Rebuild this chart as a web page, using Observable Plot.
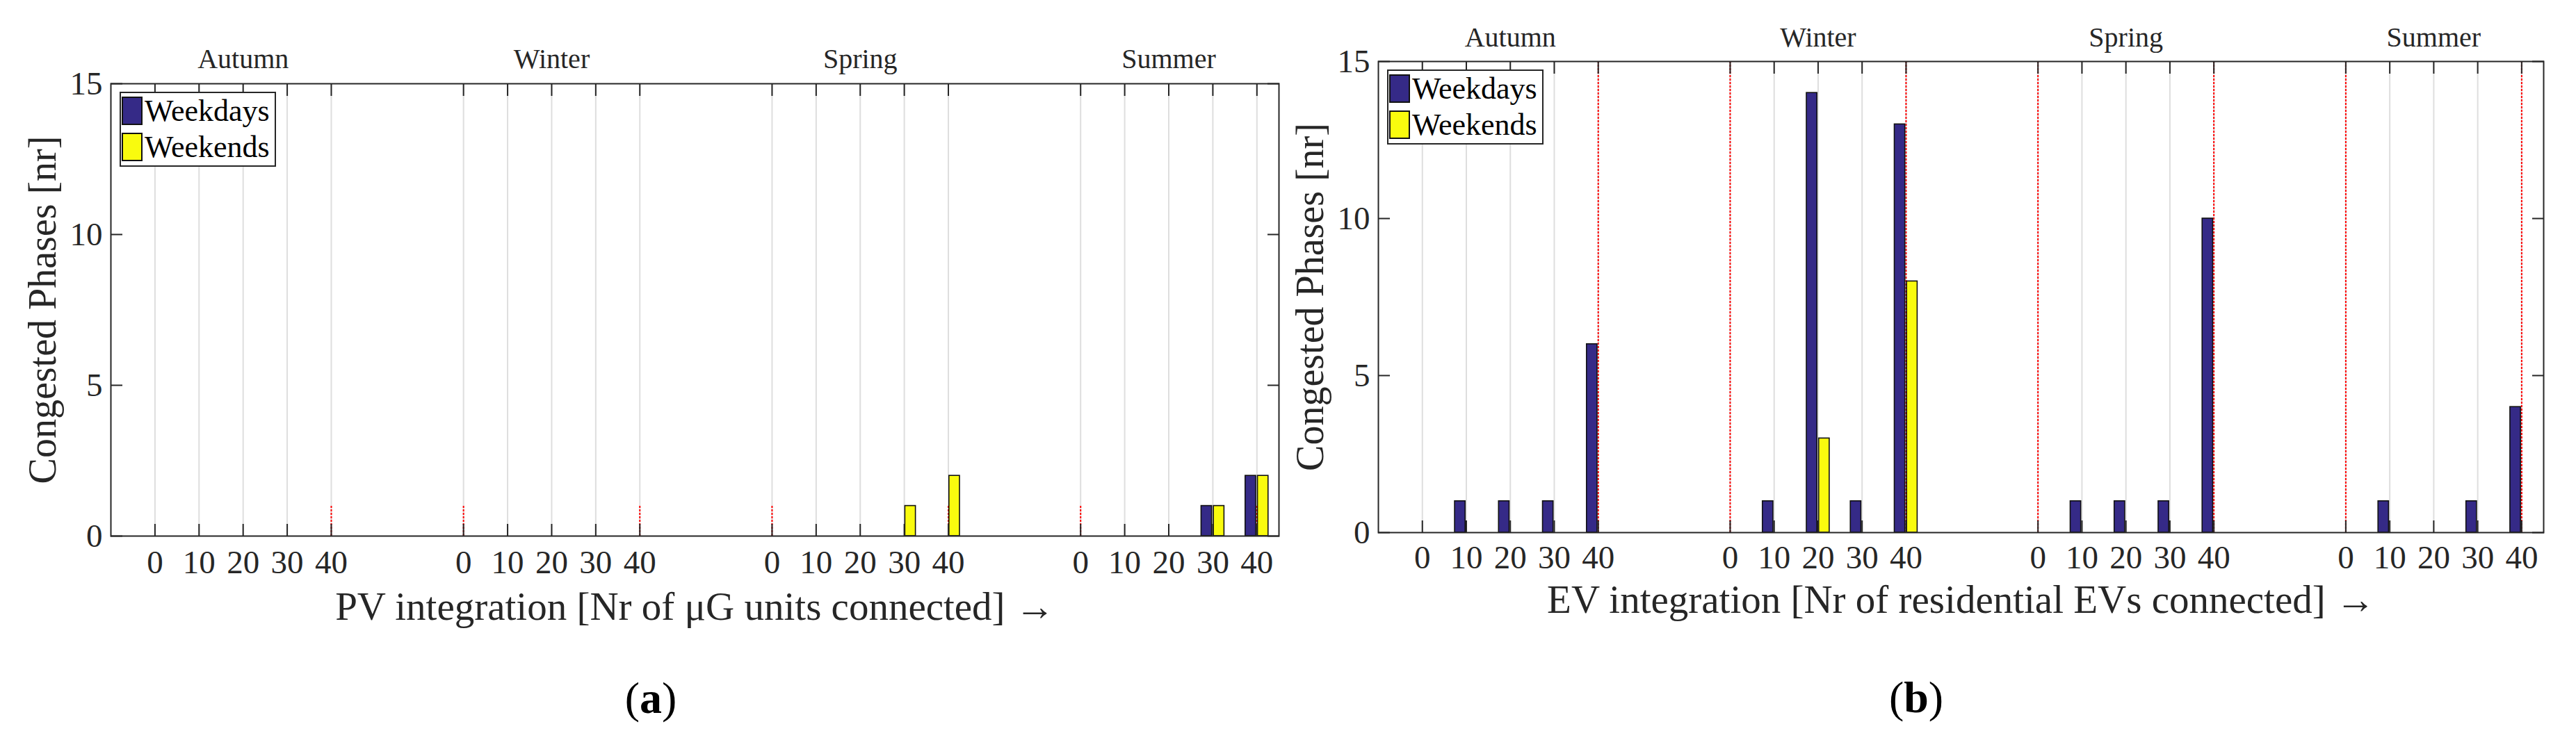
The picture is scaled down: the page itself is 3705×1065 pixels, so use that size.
<!DOCTYPE html>
<html>
<head>
<meta charset="utf-8">
<script src="https://cdn.jsdelivr.net/npm/d3@7"></script>
<script src="https://cdn.jsdelivr.net/npm/@observablehq/plot@0.6"></script>
<style>
  html, body { margin: 0; padding: 0; background: #fff; }
  #page { position: relative; width: 3705px; height: 1065px; overflow: hidden; font-family: "Liberation Serif", serif; color: #262626; }
  .panel { position: absolute; top: 0; }
  .legend { position: absolute; background: #fff; border: 2px solid #262626; box-sizing: border-box; padding-top: 5px; }
  .legend .row { display: flex; align-items: center; height: 41px; margin-bottom: 11px; }
  .legend .sw { width: 30px; height: 41px; border: 2px solid #111; box-sizing: border-box; margin: 0 3px 0 1px; }
  .legend .lab { font-size: 44px; color: #000; line-height: 41px; }
  .caption { position: absolute; font-size: 64px; color: #000; transform: translate(-50%, -50%); white-space: nowrap; }
</style>
</head>
<body>
<div id="page"></div>
<script>
// Two MATLAB-style grouped bar panels: congested phases per season and
// integration level, weekdays vs weekends.
const seasons = ["Autumn", "Winter", "Spring", "Summer"];
const levels = [0, 10, 20, 30, 40];
const seriesNames = ["Weekdays", "Weekends"];
const seriesColors = ["#352a87", "#f9fb0e"];

// values listed season by season, levels 0..40
const pvWeekdays = [0, 0, 0, 0, 0,  0, 0, 0, 0, 0,  0, 0, 0, 0, 0,  0, 0, 0, 1, 2];
const pvWeekends = [0, 0, 0, 0, 0,  0, 0, 0, 0, 0,  0, 0, 0, 1, 2,  0, 0, 0, 1, 2];
const evWeekdays = [0, 1, 1, 1, 6,  0, 1, 14, 1, 13,  0, 1, 1, 1, 10,  0, 1, 0, 1, 4];
const evWeekends = [0, 0, 0, 0, 0,  0, 0, 3, 0, 8,  0, 0, 0, 0, 0,  0, 0, 0, 0, 0];

const yTicks = [0, 5, 10, 15];

// each season block takes 5 slots followed by 2 empty ones
const slot = (s, k) => 1 + s * 7 + k;
const positions = [];
const posLabel = new Map();
seasons.forEach((s, i) => levels.forEach((lv, k) => {
  positions.push(slot(i, k));
  posLabel.set(slot(i, k), String(lv));
}));
const seasonCenters = seasons.map((s, i) => ({ name: s, x: slot(i, 2) }));
// dashed markers at each block edge (first one excepted)
const edges = positions.filter((p, j) => (j % 5 === 0 || j % 5 === 4) && j > 0);

const ink = "#262626";

function buildRows(weekdays, weekends) {
  const rows = [];
  positions.forEach((p, j) => {
    rows.push({ series: seriesNames[0], x1: p - 0.26, x2: p - 0.02, v: weekdays[j] });
    rows.push({ series: seriesNames[1], x1: p + 0.02, x2: p + 0.26, v: weekends[j] });
  });
  return rows;
}

const panels = [
  {
    left: 0, width: 1860, m: { top: 120, right: 21, bottom: 294, left: 159 },
    rows: buildRows(pvWeekdays, pvWeekends), dashTop: 1,
    xLabel: "PV integration [Nr of μG units connected] →",
    tickPad: 20, xLabelDy: 102, seasonDy: -23, caption: "a", capX: 936, capY: 1005
  },
  {
    left: 1880, width: 1825, m: { top: 88, right: 47, bottom: 299, left: 102 },
    rows: buildRows(evWeekdays, evWeekends), dashTop: 15,
    xLabel: "EV integration [Nr of residential EVs connected] →",
    tickPad: 18, xLabelDy: 97, seasonDy: -22, caption: "b", capX: 876, capY: 1004
  }
];

const page = document.getElementById("page");

for (const pc of panels) {
  const fig = Plot.plot({
    width: pc.width,
    height: 1065,
    marginTop: pc.m.top, marginRight: pc.m.right, marginBottom: pc.m.bottom, marginLeft: pc.m.left,
    style: { fontFamily: "Liberation Serif, serif", color: ink, background: "transparent", overflow: "visible" },
    x: { domain: [0, 26.5] },
    y: { domain: [0, 15] },
    color: { domain: seriesNames, range: seriesColors },
    marks: [
      Plot.ruleX(positions, { stroke: "#dedede", strokeWidth: 2 }),
      Plot.ruleX(edges, pc.dashTop >= 15
        ? { stroke: "#ff0000", strokeWidth: 2, strokeDasharray: "3,2" }
        : { y1: 0, y2: pc.dashTop, stroke: "#ff0000", strokeWidth: 2, strokeDasharray: "3,2" }),
      Plot.rectY(pc.rows, { x1: "x1", x2: "x2", y1: 0, y2: "v", fill: "series", stroke: "#111", strokeWidth: 1.6 }),
      Plot.frame({ stroke: ink, strokeWidth: 2 }),
      // inward ticks on all four sides
      Plot.axisX(positions, { anchor: "bottom", tickSize: -17, tickFormat: () => "", label: null, stroke: ink, strokeWidth: 2 }),
      Plot.axisX(positions, { anchor: "top", tickSize: -17, tickFormat: () => "", label: null, stroke: ink, strokeWidth: 2 }),
      Plot.axisY(yTicks, { anchor: "left", tickSize: -17, tickFormat: () => "", label: null, stroke: ink, strokeWidth: 2 }),
      Plot.axisY(yTicks, { anchor: "right", tickSize: -17, tickFormat: () => "", label: null, stroke: ink, strokeWidth: 2 }),
      // tick labels
      Plot.axisX(positions, { anchor: "bottom", tickSize: 0, tickPadding: pc.tickPad, tickFormat: (d) => posLabel.get(d), label: null, fontSize: 47, fill: ink }),
      Plot.axisY(yTicks, { anchor: "left", tickSize: 0, tickPadding: 12, label: null, fontSize: 47, fill: ink }),
      // season headers
      Plot.text(seasonCenters, { x: "x", text: "name", frameAnchor: "top", lineAnchor: "bottom", dy: pc.seasonDy, fontSize: 40, fill: ink }),
      // axis titles
      Plot.text([pc.xLabel], { frameAnchor: "bottom", lineAnchor: "middle", dy: pc.xLabelDy, fontSize: 57, fill: ink }),
      Plot.text(["Congested Phases [nr]"], { frameAnchor: "left", textAnchor: "middle", rotate: -90, lineAnchor: "bottom", dx: -80, fontSize: 56, fill: ink })
    ]
  });

  const wrap = document.createElement("div");
  wrap.className = "panel";
  wrap.style.left = pc.left + "px";
  wrap.style.width = pc.width + "px";
  wrap.appendChild(fig);

  const leg = document.createElement("div");
  leg.className = "legend";
  leg.style.left = (pc.m.left + 13) + "px";
  leg.style.top = (pc.m.top + 12) + "px";
  leg.style.width = "225px";
  leg.style.height = "108px";
  seriesNames.forEach((name, i) => {
    const row = document.createElement("div");
    row.className = "row";
    const sw = document.createElement("div");
    sw.className = "sw";
    sw.style.background = seriesColors[i];
    const lab = document.createElement("span");
    lab.className = "lab";
    lab.textContent = name;
    row.append(sw, lab);
    leg.appendChild(row);
  });
  wrap.appendChild(leg);

  const cap = document.createElement("div");
  cap.className = "caption";
  cap.style.left = pc.capX + "px";
  cap.style.top = pc.capY + "px";
  cap.innerHTML = "(<b>" + pc.caption + "</b>)";
  wrap.appendChild(cap);

  page.appendChild(wrap);
}
</script>
</body>
</html>
